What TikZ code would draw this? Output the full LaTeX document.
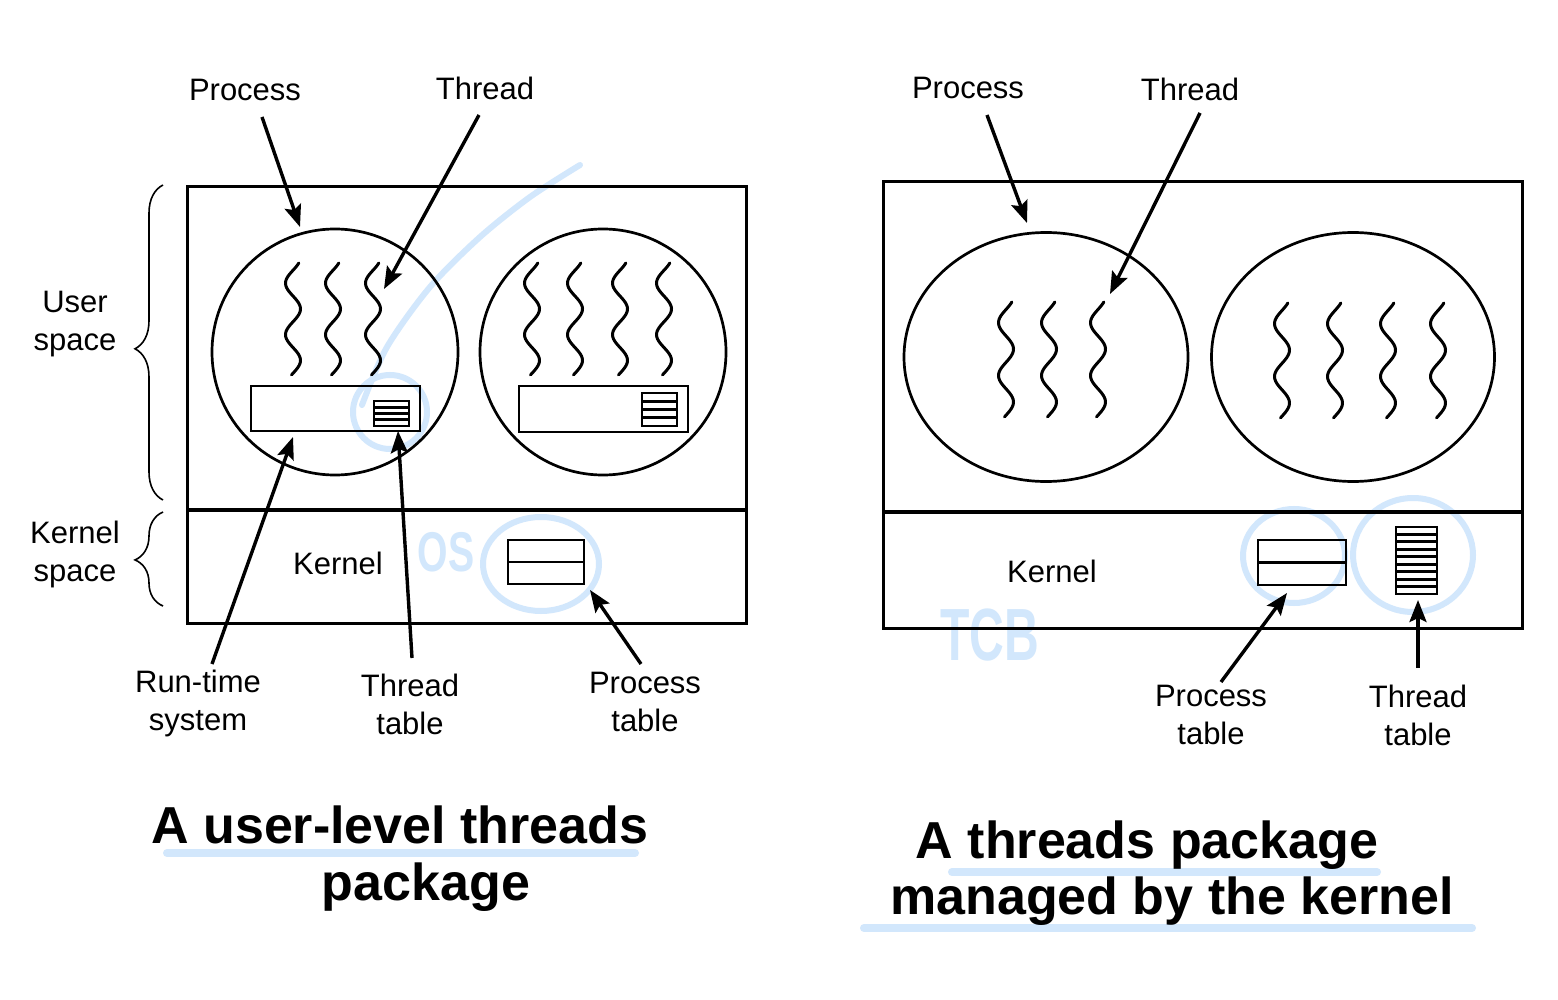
\documentclass[tikz,border=0pt]{standalone}
\usepackage{fontspec}
\setmainfont{Liberation Sans}
\usetikzlibrary{arrows.meta,shapes.geometric,decorations.pathreplacing}
\definecolor{anno}{RGB}{210,231,252}
\newcommand\squig[3]{\draw[thr] plot[smooth, domain=0:1, samples=60, variable=\q] ({#1+7.5*sin(783*\q+129)}, {#2+#3*\q});}
\newcommand\tabl[5]{\draw[tbl] (#1,#2) rectangle (#3,#4);
  \foreach \k in {1,...,#5}{\pgfmathsetmacro\yy{#2+(#4-#2)*\k/(#5+1)}\draw[tbl] (#1,\yy) -- (#3,\yy);}}
\begin{document}
\begin{tikzpicture}[x=0.5pt,y=-0.5pt,
  box/.style={draw, line width=1.6pt, inner sep=0pt, anchor=north west},
  proc/.style={draw, circle, line width=1.35pt, inner sep=0pt},
  procE/.style={draw, ellipse, line width=1.35pt, inner sep=0pt},
  thr/.style={line width=1.5pt, line cap=round},
  arr/.style={line width=1.7pt, -{Stealth[length=11pt,width=8.5pt,inset=2pt]}},
  lbl/.style={font=\fontsize{15.5}{19}\selectfont, align=center, inner sep=0pt},
  ttl/.style={font=\fontsize{26}{29}\selectfont\bfseries, inner sep=0pt, anchor=base},
  tbl/.style={line width=1.4pt},
  brc/.style={decorate, decoration={brace, amplitude=14pt, aspect=#1}, line width=0.8pt},
  ann/.style={draw=anno, line width=3pt, line cap=round},
  annt/.style={text=anno, inner sep=0pt},
]
\useasboundingbox (0,0) rectangle (1558,1000);
\fill[white] (0,0) rectangle (1558,1000);

% ---------- light blue annotations (behind) ----------
\draw[ann] (390,412) ellipse [x radius=37, y radius=37];
\draw[ann] plot[smooth] coordinates {(362,405) (387,347) (430,287) (480,237) (530,197) (580,165)};
\draw[ann] (541,564) ellipse [x radius=58, y radius=47];
\node[annt, font=\fontsize{28}{28}\selectfont\bfseries, xscale=0.7] (os) at (446,552) {OS};
\draw[ann] (1294,556) ellipse [x radius=51, y radius=47];
\draw[ann] (1413,555) ellipse [x radius=60, y radius=57];
\node[annt, font=\fontsize{37}{37}\selectfont\bfseries, xscale=0.65] (tcb) at (990,635) {TCB};
\draw[ann, line width=4pt] (167,853) -- (635,853);
\draw[ann, line width=4pt] (952,872) -- (1377,872);
\draw[ann, line width=4pt] (864,928) -- (1472,928);

% ---------- left: user-level threads ----------
\node[box, minimum width=279.5pt, minimum height=218.5pt] (L) at (186,185) {};
\draw[line width=1.6pt] (L.west |- 0,510) -- (L.east |- 0,510);
\draw[brc=0.48] (163,500) -- (163,185);
\draw[brc=0.49] (163,606) -- (163,512);
\node[lbl] (us) at (75,324) {User\\space};
\node[lbl] (ks) at (75,554) {Kernel\\space};

\node[proc, minimum size=123pt] (c1) at (335,352) {};
\node[proc, minimum size=123pt] (c2) at (603,352) {};
\squig{293}{263}{112}\squig{333}{263}{112}\squig{373}{263}{112}
\squig{532}{263}{112}\squig{575}{263}{112}\squig{620}{263}{112}\squig{664}{263}{112}

\draw[tbl] (251,386) rectangle (420,431);
\tabl{374}{401}{409}{426}{3}
\draw[tbl] (519,386) rectangle (688,432);
\tabl{642}{393}{677}{426}{3}
\tabl{508}{540}{584}{584}{1}

\node[lbl] (kL) at (338,563) {Kernel};
\node[lbl] (pL) at (245,90) {Process};
\node[lbl] (tL) at (485,88) {Thread};
\node[lbl] (rts) at (198,703) {Run-time\\system};
\node[lbl] (ttL) at (410,704) {Thread\\table};
\node[lbl] (ptL) at (645,702) {Process\\table};

\coordinate (pLs) at (262,117);  \coordinate (pLe) at (300,227);
\coordinate (tLs) at (479,115);  \coordinate (tLe) at (384,289);
\coordinate (rs) at (212,664);   \coordinate (re) at (293,437);
\coordinate (tts) at (412,658);  \coordinate (tte) at (398,431);
\coordinate (pts) at (641,664);  \coordinate (pte) at (590,590);
\draw[arr] (pLs) -- (pLe);
\draw[arr] (tLs) -- (tLe);
\draw[arr] (rs) -- (re);
\draw[arr] (tts) -- (tte);
\draw[arr] (pts) -- (pte);

\node[ttl] (t1a) at (400,843) {A user-level threads};
\node[ttl] (t1b) at (426,900) {package};

% ---------- right: kernel-managed threads ----------
\node[box, minimum width=319.5pt, minimum height=223.5pt] (R) at (882,180) {};
\draw[line width=1.6pt] (R.west |- 0,512) -- (R.east |- 0,512);
\node[procE, minimum width=142pt, minimum height=124.5pt] (e1) at (1046,357) {};
\node[procE, minimum width=141.5pt, minimum height=124.5pt] (e2) at (1353,357) {};
\squig{1006}{302}{115}\squig{1049}{302}{115}\squig{1098}{302}{115}
\squig{1282}{303}{115}\squig{1335}{303}{115}\squig{1388}{303}{115}\squig{1438}{303}{115}

\tabl{1258}{540}{1346}{585}{1}
\tabl{1396}{527}{1437}{594}{8}

\node[lbl] (kR) at (1052,571) {Kernel};
\node[lbl] (pR) at (968,88) {Process};
\node[lbl] (tR) at (1190,89) {Thread};
\node[lbl] (ptR) at (1211,715) {Process\\table};
\node[lbl] (ttR) at (1418,715) {Thread\\table};

\coordinate (pRs) at (987,115);   \coordinate (pRe) at (1027,223);
\coordinate (tRs) at (1200,113);  \coordinate (tRe) at (1110,294);
\coordinate (ptRs) at (1221,682); \coordinate (ptRe) at (1287,593);
\coordinate (ttRs) at (1418,668); \coordinate (ttRe) at (1418,600);
\draw[arr] (pRs) -- (pRe);
\draw[arr] (tRs) -- (tRe);
\draw[arr] (ptRs) -- (ptRe);
\draw[arr] (ttRs) -- (ttRe);

\node[ttl] (t2a) at (1147,858) {A threads package};
\node[ttl] (t2b) at (1172,914) {managed by the kernel};
\end{tikzpicture}
\end{document}
